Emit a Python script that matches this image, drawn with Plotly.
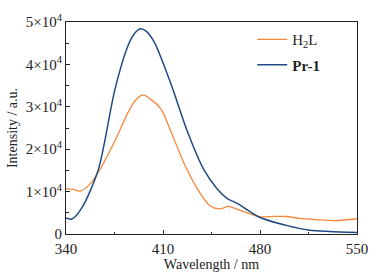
import plotly.graph_objects as go

wl_h2l = [340, 345, 350.2, 356.2, 364.5, 375.2, 384.8, 390, 395.5, 401.4, 408.6, 415.7, 425.2, 434.8, 444.3, 451.4, 457.4, 465.7, 480, 490, 499, 508.6, 520, 534.8, 550]
i_h2l = [10650, 10500, 10140, 11410, 15160, 21920, 28680, 31500, 32810, 31690, 29430, 24170, 16670, 10650, 6530, 5930, 6530, 5560, 4050, 4150, 4130, 3680, 3400, 3150, 3600]

wl_pr = [340, 344.3, 351.4, 363.3, 375.2, 384.8, 390, 393.8, 398, 403.8, 415.7, 427.6, 439.5, 449, 456.2, 463.3, 480, 499, 515.7, 530, 550]
i_pr = [3760, 3530, 6150, 15160, 33940, 44440, 47500, 48420, 47800, 45200, 35430, 24170, 15160, 10650, 8400, 7280, 3900, 2030, 900, 600, 380]

y_tickvals = [0, 10000, 20000, 30000, 40000, 50000]
y_ticktext = ["0", "1×10<sup>4</sup>", "2×10<sup>4</sup>", "3×10<sup>4</sup>", "4×10<sup>4</sup>", "5×10<sup>4</sup>"]
x_tickvals = [340, 410, 480, 550]

FONT = "Liberation Serif"

fig = go.Figure()
fig.add_trace(go.Scatter(x=wl_h2l, y=i_h2l, mode="lines", name="H<sub>2</sub>L",
                         line=dict(color="#f7873a", width=1.3, shape="spline", smoothing=0.8),
                         legendgroup="a"))
fig.add_trace(go.Scatter(x=wl_pr, y=i_pr, mode="lines", name="<b>Pr-1</b>",
                         line=dict(color="#1f4b82", width=1.5, shape="spline", smoothing=0.8),
                         legendgroup="b"))

axis_common = dict(showline=True, linecolor="#222", linewidth=1, mirror=True,
                   showgrid=False, zeroline=False, ticks="inside", ticklen=4,
                   tickcolor="#222", tickfont=dict(family=FONT, size=15, color="#222"))

fig.update_xaxes(range=[340, 550], tickvals=x_tickvals, ticklabelstandoff=1,
                 minor=dict(ticks="inside", ticklen=2.5, dtick=35, tick0=340, tickcolor="#222"),
                 title=dict(text="Wavelength / nm", font=dict(family=FONT, size=14, color="#222"), standoff=0),
                 **axis_common)
fig.update_yaxes(range=[0, 50000], tickvals=y_tickvals, ticktext=y_ticktext,
                 minor=dict(ticks="inside", ticklen=2.5, dtick=5000, tick0=0, tickcolor="#222"),
                 title=dict(text="Intensity / a.u.", font=dict(family=FONT, size=14, color="#222"), standoff=4),
                 **axis_common)

fig.update_layout(
    width=380, height=280,
    margin=dict(l=64, r=22, t=12, b=46),
    paper_bgcolor="white", plot_bgcolor="white",
    font=dict(family=FONT, color="#222"),
    legend=dict(x=0.64, y=0.995, xanchor="left", yanchor="top",
                bgcolor="rgba(0,0,0,0)", font=dict(family=FONT, size=15, color="#222"),
                tracegroupgap=3, itemwidth=30),
    showlegend=True,
)

fig.write_html("out.html", config={"displayModeBar": False},
               post_script="document.body.style.margin='0';document.body.style.overflow='hidden';")
